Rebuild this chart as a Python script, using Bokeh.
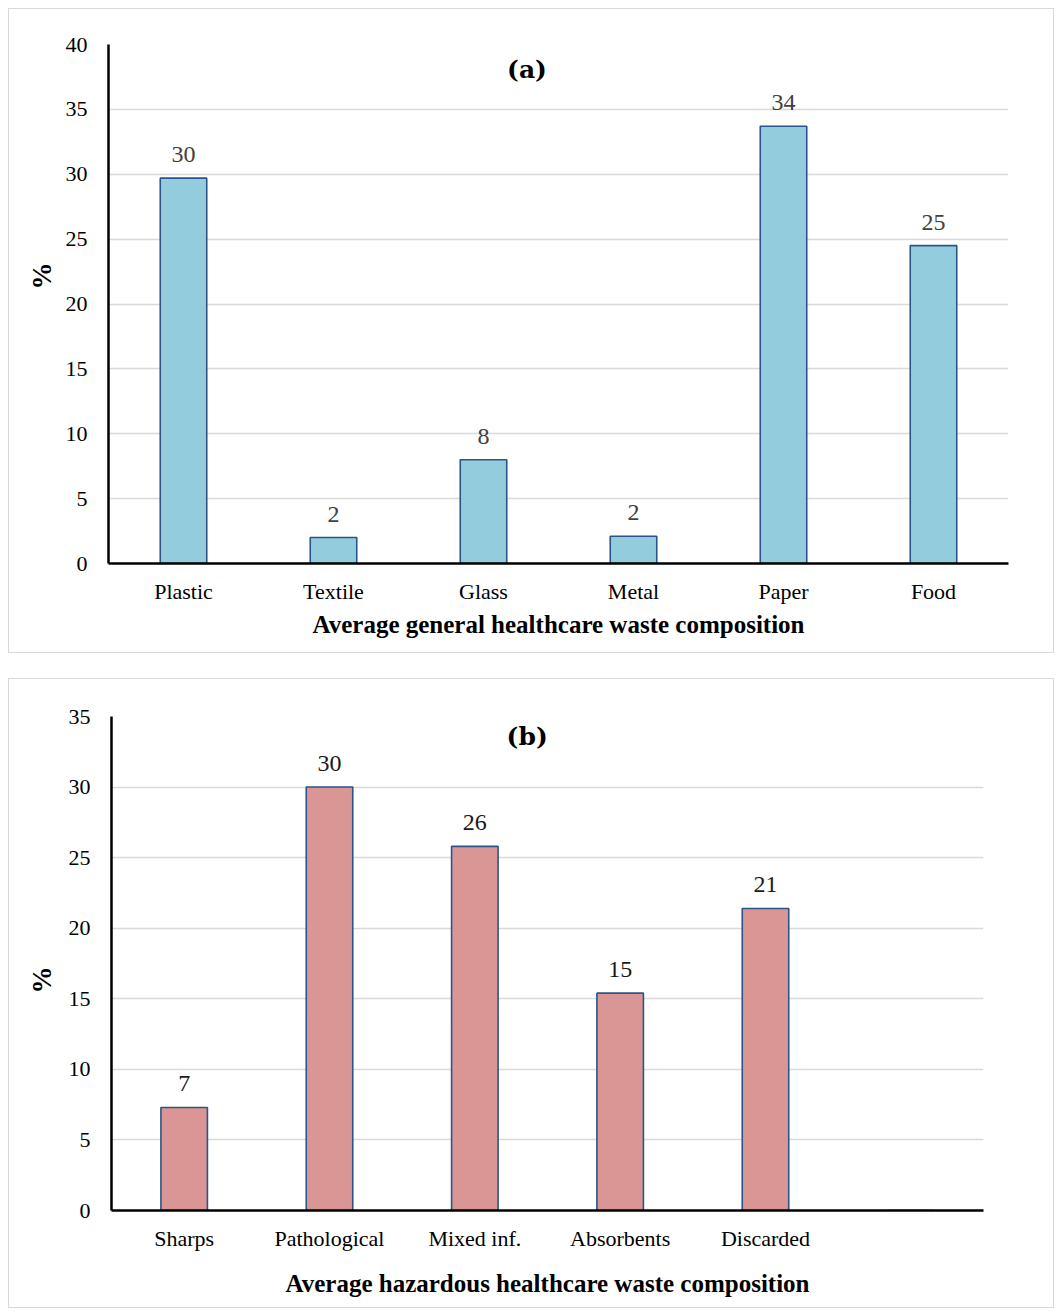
from bokeh.plotting import figure
from bokeh.models import Range1d, FixedTicker, Label, Title
from bokeh.core.properties import value
from bokeh.embed import file_html
from bokeh.resources import INLINE

# ---- data ----
general_cats = ["Plastic", "Textile", "Glass", "Metal", "Paper", "Food"]
general_vals = [29.7, 2.0, 8.0, 2.1, 33.7, 24.5]
general_labels = ["30", "2", "8", "2", "34", "25"]

hazard_cats = ["Sharps", "Pathological", "Mixed inf.", "Absorbents", "Discarded"]
hazard_vals = [7.3, 30.0, 25.8, 15.4, 21.4]
hazard_labels = ["7", "30", "26", "15", "21"]

general_ticks = [0, 5, 10, 15, 20, 25, 30, 35, 40]
hazard_ticks = [0, 5, 10, 15, 20, 25, 30, 35]

SERIF = "Liberation Serif"


def make_panel(cats, vals, labels, ticks, ymax, fill, label_color, xtitle, tag,
               tag_x, tag_y, pct_offset, pct_standoff, height, mb_left, mb_right,
               mb_top, mb_bottom, width_frac, title_standoff, margin):
    p = figure(x_range=cats, y_range=Range1d(0, ymax), width=1046, height=height,
               output_backend="svg", toolbar_location=None,
               min_border_left=mb_left, min_border_right=mb_right,
               min_border_top=mb_top, min_border_bottom=mb_bottom,
               styles={"border": "1px solid #d9d9d9"})
    p.margin = margin
    p.outline_line_color = None
    p.x_range.range_padding = 0
    p.vbar(x=cats, top=vals, width=width_frac, fill_color=fill,
           line_color="#2b5489", line_width=1.6)
    p.text(x=cats, y=vals, text=labels, text_align="center", text_baseline="bottom",
           y_offset=-16, text_font=value(SERIF), text_font_size="24px",
           text_color=label_color)
    p.add_layout(Label(x=tag_x, y=tag_y, text=tag, text_align="center",
                       text_baseline="middle", text_font="DejaVu Serif",
                       text_font_style="bold", text_font_size="25px",
                       text_color="#000000"))
    p.add_layout(Title(text="%", align="left", offset=pct_offset,
                       standoff=pct_standoff, text_font=SERIF,
                       text_font_style="bold", text_font_size="27px",
                       text_color="#000000"), "left")

    p.xgrid.grid_line_color = None
    p.ygrid.grid_line_color = "#d9d9d9"
    p.ygrid.grid_line_width = 1.5
    p.yaxis.ticker = FixedTicker(ticks=ticks)

    for ax in (p.xaxis, p.yaxis):
        ax.axis_line_color = "#000000"
        ax.axis_line_width = 2.5
        ax.major_tick_line_color = None
        ax.minor_tick_line_color = None
        ax.major_label_text_font = SERIF
        ax.major_label_text_font_size = "22px"
        ax.major_label_text_color = "#000000"

    p.yaxis.major_label_standoff = 15
    p.xaxis.major_label_standoff = 9
    p.xaxis.axis_label = xtitle
    p.xaxis.axis_label_text_font = SERIF
    p.xaxis.axis_label_text_font_style = "bold"
    p.xaxis.axis_label_text_color = "#000000"
    p.xaxis.axis_label_text_font_size = "25px"
    p.xaxis.axis_label_standoff = title_standoff
    return p


pa = make_panel(general_cats, general_vals, general_labels, general_ticks, 40,
                "#93cddd", "#404040", "Average general healthcare waste composition",
                "(a)", 2.79, 38.1, 274, 12, 645, 99, 47, 35, 91, 0.31, 4,
                (8, 0, 0, 8))

pb = make_panel(hazard_cats + [" "], hazard_vals + [0], hazard_labels + [""],
                hazard_ticks, 35, "#d99694", "#1a1a1a",
                "Average hazardous healthcare waste composition",
                "(b)", 2.86, 33.6, 217, 18, 630, 102, 72, 37, 99, 0.32, 16,
                (25, 0, 0, 8))

open("out.html", "w").write(file_html([pa, pb], INLINE))
